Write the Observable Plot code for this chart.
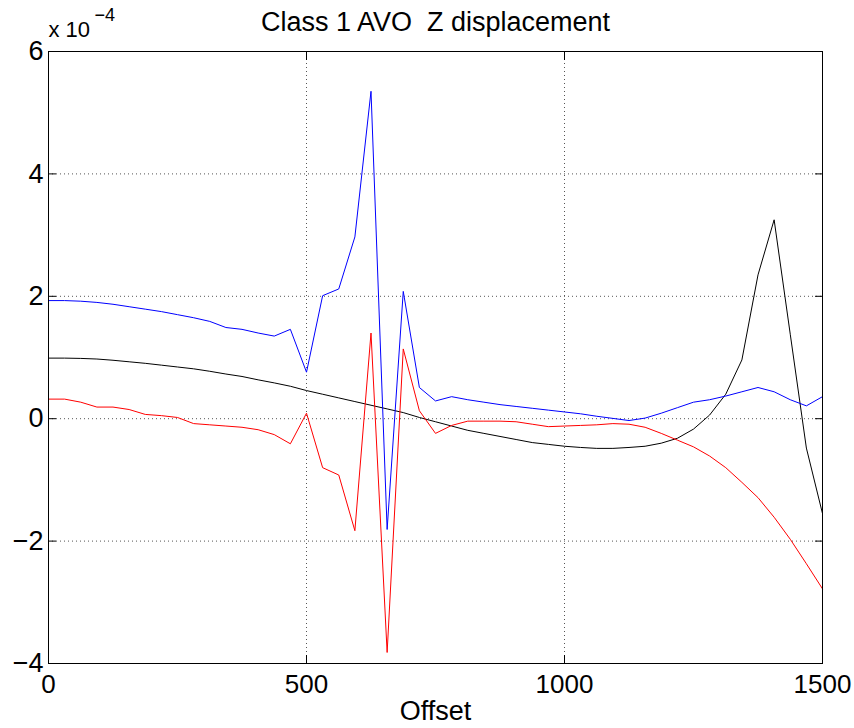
<!DOCTYPE html>
<html>
<head>
<meta charset="utf-8">
<script src="https://cdn.jsdelivr.net/npm/d3@7"></script>
<script src="https://cdn.jsdelivr.net/npm/@observablehq/plot@0.6"></script>
<style>
  html, body { margin: 0; padding: 0; background: #fff; }
</style>
</head>
<body>
<div id="chart"></div>
<script>
// Offsets (x), sampled every 31.25
const offsets = [0, 31.25, 62.5, 93.75, 125, 156.25, 187.5, 218.75, 250, 281.25,
  312.5, 343.75, 375, 406.25, 437.5, 468.75, 500, 531.25, 562.5, 593.75,
  625, 656.25, 687.5, 718.75, 750, 781.25, 812.5, 843.75, 875, 906.25,
  937.5, 968.75, 1000, 1031.25, 1062.5, 1093.75, 1125, 1156.25, 1187.5, 1218.75,
  1250, 1281.25, 1312.5, 1343.75, 1375, 1406.25, 1437.5, 1468.75, 1500];

// Z displacement values, in units of 1e-4
const zBlue = [1.93, 1.93, 1.92, 1.90, 1.87, 1.83, 1.79, 1.75, 1.70, 1.65,
  1.59, 1.49, 1.46, 1.40, 1.35, 1.46, 0.76, 2.01, 2.12, 2.97,
  5.35, -1.81, 2.08, 0.51, 0.29, 0.36, 0.31, 0.27, 0.23, 0.20,
  0.17, 0.14, 0.11, 0.08, 0.04, 0.005, -0.03, 0.01, 0.09, 0.18,
  0.27, 0.31, 0.37, 0.44, 0.51, 0.44, 0.31, 0.21, 0.36];

const zBlack = [0.99, 0.99, 0.985, 0.975, 0.955, 0.93, 0.905, 0.875, 0.845, 0.815,
  0.775, 0.73, 0.69, 0.635, 0.585, 0.53, 0.46, 0.40, 0.34, 0.28,
  0.22, 0.16, 0.10, 0.02, -0.05, -0.12, -0.19, -0.24, -0.29, -0.34,
  -0.39, -0.42, -0.45, -0.47, -0.485, -0.485, -0.47, -0.45, -0.40, -0.32,
  -0.17, 0.06, 0.40, 0.96, 2.35, 3.25, 1.38, -0.48, -1.55];

const zRed = [0.32, 0.32, 0.27, 0.19, 0.19, 0.15, 0.07, 0.05, 0.02, -0.08,
  -0.10, -0.12, -0.14, -0.18, -0.26, -0.41, 0.09, -0.80, -0.92, -1.83,
  1.40, -3.82, 1.14, 0.13, -0.24, -0.11, -0.04, -0.04, -0.04, -0.05,
  -0.09, -0.13, -0.12, -0.11, -0.10, -0.08, -0.09, -0.14, -0.24, -0.35,
  -0.46, -0.61, -0.80, -1.04, -1.29, -1.61, -1.97, -2.37, -2.78];

const xTicks = [0, 500, 1000, 1500];
const yTicks = [-4, -2, 0, 2, 4, 6];
const titleText = "Class 1 AVO  Z displacement";
const xLabel = "Offset";
const exponentBase = "x 10";
const exponentPower = "\u22124";

const rows = series => offsets.map((o, i) => ({offset: o, value: series[i]}));
const font = "'Liberation Sans', Arial, Helvetica, sans-serif";
const intFormat = d => (d < 0 ? "\u2212" : "") + String(Math.abs(d));

const chart = Plot.plot({
  width: 854,
  height: 728,
  marginLeft: 48,
  marginRight: 32,
  marginTop: 51,
  marginBottom: 65,
  style: {fontFamily: font, background: "#fff", color: "#000", overflow: "visible"},
  x: {domain: [0, 1500], label: null},
  y: {domain: [-4, 6], label: null},
  marks: [
    Plot.gridX(xTicks.slice(1, -1), {stroke: "#555", strokeOpacity: 1, strokeDasharray: "1,3"}),
    Plot.gridY(yTicks.slice(1, -1), {stroke: "#555", strokeOpacity: 1, strokeDasharray: "1,3"}),
    Plot.line(rows(zBlack), {x: "offset", y: "value", stroke: "#000000", strokeWidth: 1}),
    Plot.line(rows(zBlue), {x: "offset", y: "value", stroke: "#0000ff", strokeWidth: 1}),
    Plot.line(rows(zRed), {x: "offset", y: "value", stroke: "#ff0000", strokeWidth: 1}),
    Plot.frame({stroke: "#000"}),
    Plot.axisX(xTicks, {anchor: "bottom", tickSize: -8, tickPadding: 19, fontSize: 26, label: null, tickFormat: intFormat}),
    Plot.axisX(xTicks, {anchor: "top", tickSize: -8, tickFormat: () => "", label: null}),
    Plot.axisY(yTicks, {anchor: "left", tickSize: -8, tickPadding: 13, fontSize: 27, label: null, tickFormat: intFormat}),
    Plot.axisY(yTicks, {anchor: "right", tickSize: -8, tickFormat: () => "", label: null}),
    Plot.text([titleText], {text: d => d, frameAnchor: "top", dy: -29, fontSize: 27, lineAnchor: "middle"}),
    Plot.text([xLabel], {text: d => d, frameAnchor: "bottom", dy: 48, fontSize: 27, lineAnchor: "middle"}),
    Plot.text([exponentBase], {text: d => d, frameAnchor: "top-left", textAnchor: "start", dy: -22, fontSize: 22, lineAnchor: "middle"}),
    Plot.text([exponentPower], {text: d => d, frameAnchor: "top-left", textAnchor: "start", dx: 46, dy: -36, fontSize: 18, lineAnchor: "middle"})
  ]
});
document.getElementById("chart").appendChild(chart);
</script>
</body>
</html>
